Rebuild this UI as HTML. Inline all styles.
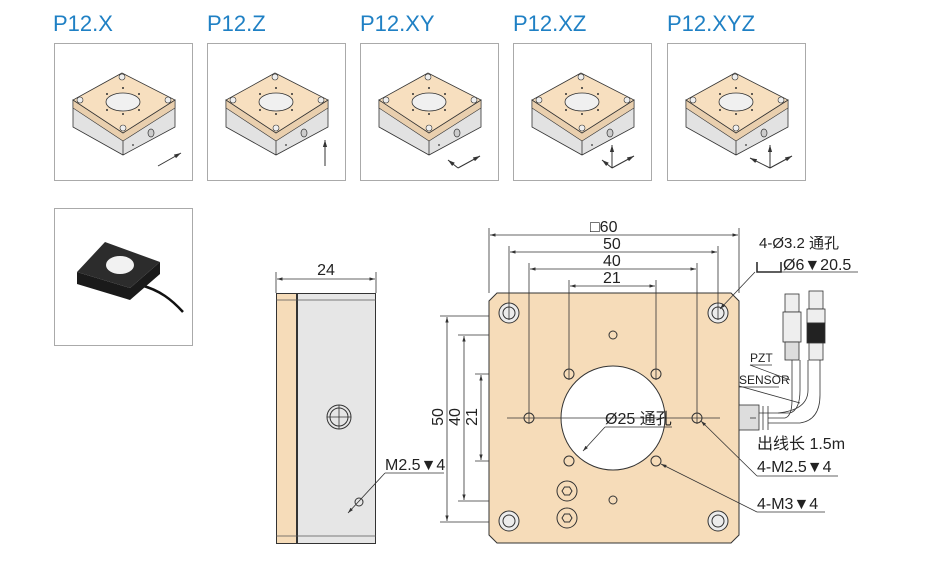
<!DOCTYPE html>
<html><head><meta charset="utf-8"><style>
html,body{margin:0;padding:0;background:#fff;}
svg{display:block;}
text{font-family:"Liberation Sans","Noto Sans CJK SC",sans-serif;}
</style></head><body>
<svg width="934" height="561" viewBox="0 0 934 561" xmlns="http://www.w3.org/2000/svg">
<defs>
<marker id="ar" viewBox="0 0 10 10" refX="10" refY="5" markerWidth="7" markerHeight="7" orient="auto-start-reverse"><path d="M0,2 L10,5 L0,8 z" fill="#333"/></marker>
<g id="iso">
<polygon points="73,100 73,127 123,155 175,127 175,100 123,133" fill="#e2e2e2" stroke="#333" stroke-width="0.8"/>
<polygon points="73,100 73,108 123,141 175,108 175,100 123,133" fill="#e9cfae" stroke="#333" stroke-width="0.6"/>
<line x1="123" y1="141" x2="123" y2="155" stroke="#333" stroke-width="0.8"/>
<polygon points="122,73 175,100 123,133 73,100" fill="#f7dfbf" stroke="#333" stroke-width="0.8"/>
<ellipse cx="123" cy="102" rx="17" ry="9" fill="#f0f0f0" stroke="#333" stroke-width="0.8"/>
<circle cx="122" cy="77" r="3" fill="#eee" stroke="#333" stroke-width="0.6"/>
<circle cx="80" cy="100" r="3" fill="#eee" stroke="#333" stroke-width="0.6"/>
<circle cx="168" cy="100" r="3" fill="#eee" stroke="#333" stroke-width="0.6"/>
<circle cx="123" cy="128" r="3" fill="#eee" stroke="#333" stroke-width="0.6"/>
<g fill="#333"><circle cx="107" cy="94" r="1"/><circle cx="139" cy="94" r="1"/><circle cx="107" cy="110" r="1"/><circle cx="139" cy="110" r="1"/><circle cx="123" cy="88" r="1"/><circle cx="123" cy="114" r="1"/></g>
<ellipse cx="151" cy="133" rx="3" ry="4" fill="#ccc" stroke="#333" stroke-width="0.7"/>
<circle cx="133" cy="145" r="0.9" fill="#333"/>
</g>
</defs>

<g font-size="22" fill="#1f80c4">
<text x="53" y="31">P12.X</text><text x="207" y="31">P12.Z</text><text x="360" y="31">P12.XY</text><text x="513" y="31">P12.XZ</text><text x="667" y="31">P12.XYZ</text>
</g>
<g fill="none" stroke="#aaa" stroke-width="1">
<rect x="54.5" y="43.5" width="138" height="137"/>
<rect x="207.5" y="43.5" width="138" height="137"/>
<rect x="360.5" y="43.5" width="138" height="137"/>
<rect x="513.5" y="43.5" width="138" height="137"/>
<rect x="667.5" y="43.5" width="138" height="137"/>
<rect x="54.5" y="208.5" width="138" height="137"/>
</g>
<use href="#iso"/>
<use href="#iso" x="153"/>
<use href="#iso" x="306"/>
<use href="#iso" x="459"/>
<use href="#iso" x="613"/>
<g stroke="#333" stroke-width="1" fill="none" marker-end="url(#ar)">
<line x1="158" y1="166" x2="181" y2="153"/>
<line x1="325" y1="166" x2="325" y2="140"/>
<line x1="458" y1="168" x2="480" y2="156"/><line x1="458" y1="168" x2="448" y2="160"/>
<line x1="612" y1="168" x2="634" y2="156"/><line x1="612" y1="168" x2="602" y2="160"/><line x1="612" y1="168" x2="612" y2="145"/>
<line x1="770" y1="168" x2="792" y2="156"/><line x1="770" y1="168" x2="750" y2="158"/><line x1="770" y1="168" x2="770" y2="145"/>
</g>

<path d="M140,285 C160,290 172,300 183,312" stroke="#111" stroke-width="2.5" fill="none"/>
<polygon points="77,272 77,284 130,300 160,274 160,262 130,288" fill="#1a1a1a"/>
<polygon points="105,242 160,262 130,288 77,272" fill="#2c2c2c"/>
<ellipse cx="120" cy="265" rx="14" ry="9" fill="#f2f2f2"/>

<rect x="276.5" y="293.5" width="20" height="250" fill="#f6dcb9" stroke="#333" stroke-width="1"/>
<rect x="297.5" y="293.5" width="78" height="250" fill="#e6e6e6" stroke="#333" stroke-width="1"/>
<line x1="276" y1="300" x2="376" y2="300" stroke="#555" stroke-width="0.7"/>
<line x1="276" y1="536" x2="376" y2="536" stroke="#555" stroke-width="0.7"/>
<circle cx="339" cy="417" r="12" fill="none" stroke="#333"/><circle cx="339" cy="417" r="9" fill="none" stroke="#333"/>
<line x1="327" y1="417" x2="351" y2="417" stroke="#333" stroke-width="0.8"/><line x1="339" y1="405" x2="339" y2="429" stroke="#333" stroke-width="0.8"/>
<circle cx="359" cy="502" r="4" fill="none" stroke="#333"/>
<g stroke="#333" stroke-width="0.8" fill="none">
<line x1="276" y1="293" x2="276" y2="272"/><line x1="376" y1="293" x2="376" y2="272"/>
<line x1="277" y1="279" x2="375" y2="279" marker-start="url(#ar)" marker-end="url(#ar)"/>
<line x1="444" y1="473" x2="385" y2="473"/><line x1="385" y1="473" x2="348" y2="513" marker-end="url(#ar)"/>
<line x1="440" y1="316" x2="505" y2="316"/><line x1="440" y1="522" x2="505" y2="522"/>
<line x1="447" y1="317" x2="447" y2="521" marker-start="url(#ar)" marker-end="url(#ar)"/>
<line x1="458" y1="335" x2="615" y2="335"/><line x1="458" y1="501" x2="615" y2="501"/>
<line x1="464" y1="336" x2="464" y2="500" marker-start="url(#ar)" marker-end="url(#ar)"/>
<line x1="475" y1="374" x2="570" y2="374"/><line x1="475" y1="461" x2="570" y2="461"/>
<line x1="481" y1="375" x2="481" y2="460" marker-start="url(#ar)" marker-end="url(#ar)"/>
</g>
<text x="326" y="275" font-size="16" text-anchor="middle" fill="#222">24</text>
<text x="385" y="470" font-size="16" fill="#222">M2.5▼4</text>
<g font-size="16" fill="#222" text-anchor="middle">
<text transform="translate(443,417) rotate(-90)">50</text>
<text transform="translate(460,417) rotate(-90)">40</text>
<text transform="translate(477,417) rotate(-90)">21</text>
</g>

<polygon points="497,293 731,293 739,301 739,535 731,543 497,543 489,535 489,301" fill="#f6dcb9" stroke="#333" stroke-width="1"/>
<circle cx="613" cy="418" r="52" fill="#fff" stroke="#333"/>
<g fill="#ececec" stroke="#333" stroke-width="1">
<circle cx="509" cy="313" r="10"/><circle cx="718" cy="313" r="10"/><circle cx="509" cy="521" r="10"/><circle cx="718" cy="521" r="10"/>
</g>
<g fill="none" stroke="#333" stroke-width="1">
<circle cx="509" cy="313" r="6"/><circle cx="718" cy="313" r="6"/><circle cx="509" cy="521" r="6"/><circle cx="718" cy="521" r="6"/>
<circle cx="613" cy="335" r="4"/><circle cx="613" cy="500" r="4"/>
<circle cx="569" cy="374" r="5"/><circle cx="656" cy="374" r="5"/><circle cx="569" cy="461" r="5"/><circle cx="656" cy="461" r="5"/>
<circle cx="529" cy="418" r="5"/><circle cx="697" cy="418" r="5"/>
<circle cx="567" cy="491" r="10"/><circle cx="567" cy="518" r="10"/>
<polygon points="562,491 564.5,487 569.5,487 572,491 569.5,495 564.5,495"/>
<polygon points="562,518 564.5,514 569.5,514 572,518 569.5,522 564.5,522"/>
</g>
<g stroke="#333" stroke-width="0.8" fill="none">
<line x1="489" y1="293" x2="489" y2="228"/><line x1="739" y1="293" x2="739" y2="228"/>
<line x1="490" y1="235" x2="738" y2="235" marker-start="url(#ar)" marker-end="url(#ar)"/>
<line x1="509" y1="320" x2="509" y2="246"/><line x1="718" y1="320" x2="718" y2="246"/>
<line x1="510" y1="252" x2="717" y2="252" marker-start="url(#ar)" marker-end="url(#ar)"/>
<line x1="529" y1="424" x2="529" y2="263"/><line x1="697" y1="424" x2="697" y2="263"/>
<line x1="530" y1="269" x2="696" y2="269" marker-start="url(#ar)" marker-end="url(#ar)"/>
<line x1="569" y1="380" x2="569" y2="280"/><line x1="656" y1="380" x2="656" y2="280"/>
<line x1="570" y1="286" x2="655" y2="286" marker-start="url(#ar)" marker-end="url(#ar)"/>
<line x1="507" y1="418" x2="720" y2="418"/>
<line x1="605" y1="427" x2="672" y2="427"/><line x1="605" y1="427" x2="583" y2="451" marker-end="url(#ar)"/>
<line x1="755" y1="272" x2="720" y2="309" marker-end="url(#ar)"/>
<line x1="757" y1="476" x2="838" y2="476"/><line x1="757" y1="476" x2="701" y2="421" marker-end="url(#ar)"/>
<line x1="757" y1="512" x2="825" y2="512"/><line x1="757" y1="512" x2="661" y2="464" marker-end="url(#ar)"/>
<path d="M757,262 v10 h24 v-10" stroke="#222" stroke-width="1.5"/>
<line x1="757" y1="272" x2="858" y2="272"/>
</g>
<g font-size="16" fill="#222">
<text x="590" y="232">□60</text>
<text x="603" y="249">50</text>
<text x="603" y="266">40</text>
<text x="603" y="283">21</text>
<text x="605" y="424">Ø25 通孔</text>
<text x="759" y="248" font-size="15">4-Ø3.2 通孔</text>
<text x="783" y="270">Ø6▼20.5</text>
<text x="757" y="449">出线长 1.5m</text>
<text x="757" y="472">4-M2.5▼4</text>
<text x="757" y="509">4-M3▼4</text>
<text x="750" y="362" font-size="12">PZT</text>
<text x="739" y="384" font-size="12">SENSOR</text>
</g>
<rect x="739" y="405" width="20" height="25" fill="#ddd" stroke="#333" stroke-width="0.8"/>
<g stroke="#333" stroke-width="0.8" fill="none">
<line x1="763" y1="406" x2="763" y2="430"/><line x1="768" y1="406" x2="768" y2="430"/>
<line x1="750" y1="418" x2="756" y2="418"/>
<path d="M759,413 H790 Q800,410 800,390 V360"/>
<path d="M768,423 H800 Q820,420 820,395 V360"/>
<path d="M768,418 H785 Q792,416 792,400 V360"/>
<path d="M778,413 Q808,410 808,390 V360"/>
<line x1="750" y1="365" x2="790" y2="380"/><line x1="739" y1="386" x2="800" y2="403"/>
<line x1="750" y1="365" x2="772" y2="365"/><line x1="739" y1="387" x2="779" y2="387"/>
</g>
<g stroke="#333" stroke-width="0.8">
<rect x="785" y="294" width="14" height="18" fill="#eee"/><rect x="783" y="312" width="18" height="30" fill="#eee"/><rect x="785" y="342" width="14" height="18" fill="#ddd"/>
<rect x="809" y="291" width="14" height="18" fill="#eee"/><rect x="807" y="309" width="18" height="14" fill="#eee"/><rect x="807" y="323" width="18" height="20" fill="#222"/><rect x="809" y="343" width="14" height="17" fill="#eee"/>
</g>
</svg>
</body></html>
